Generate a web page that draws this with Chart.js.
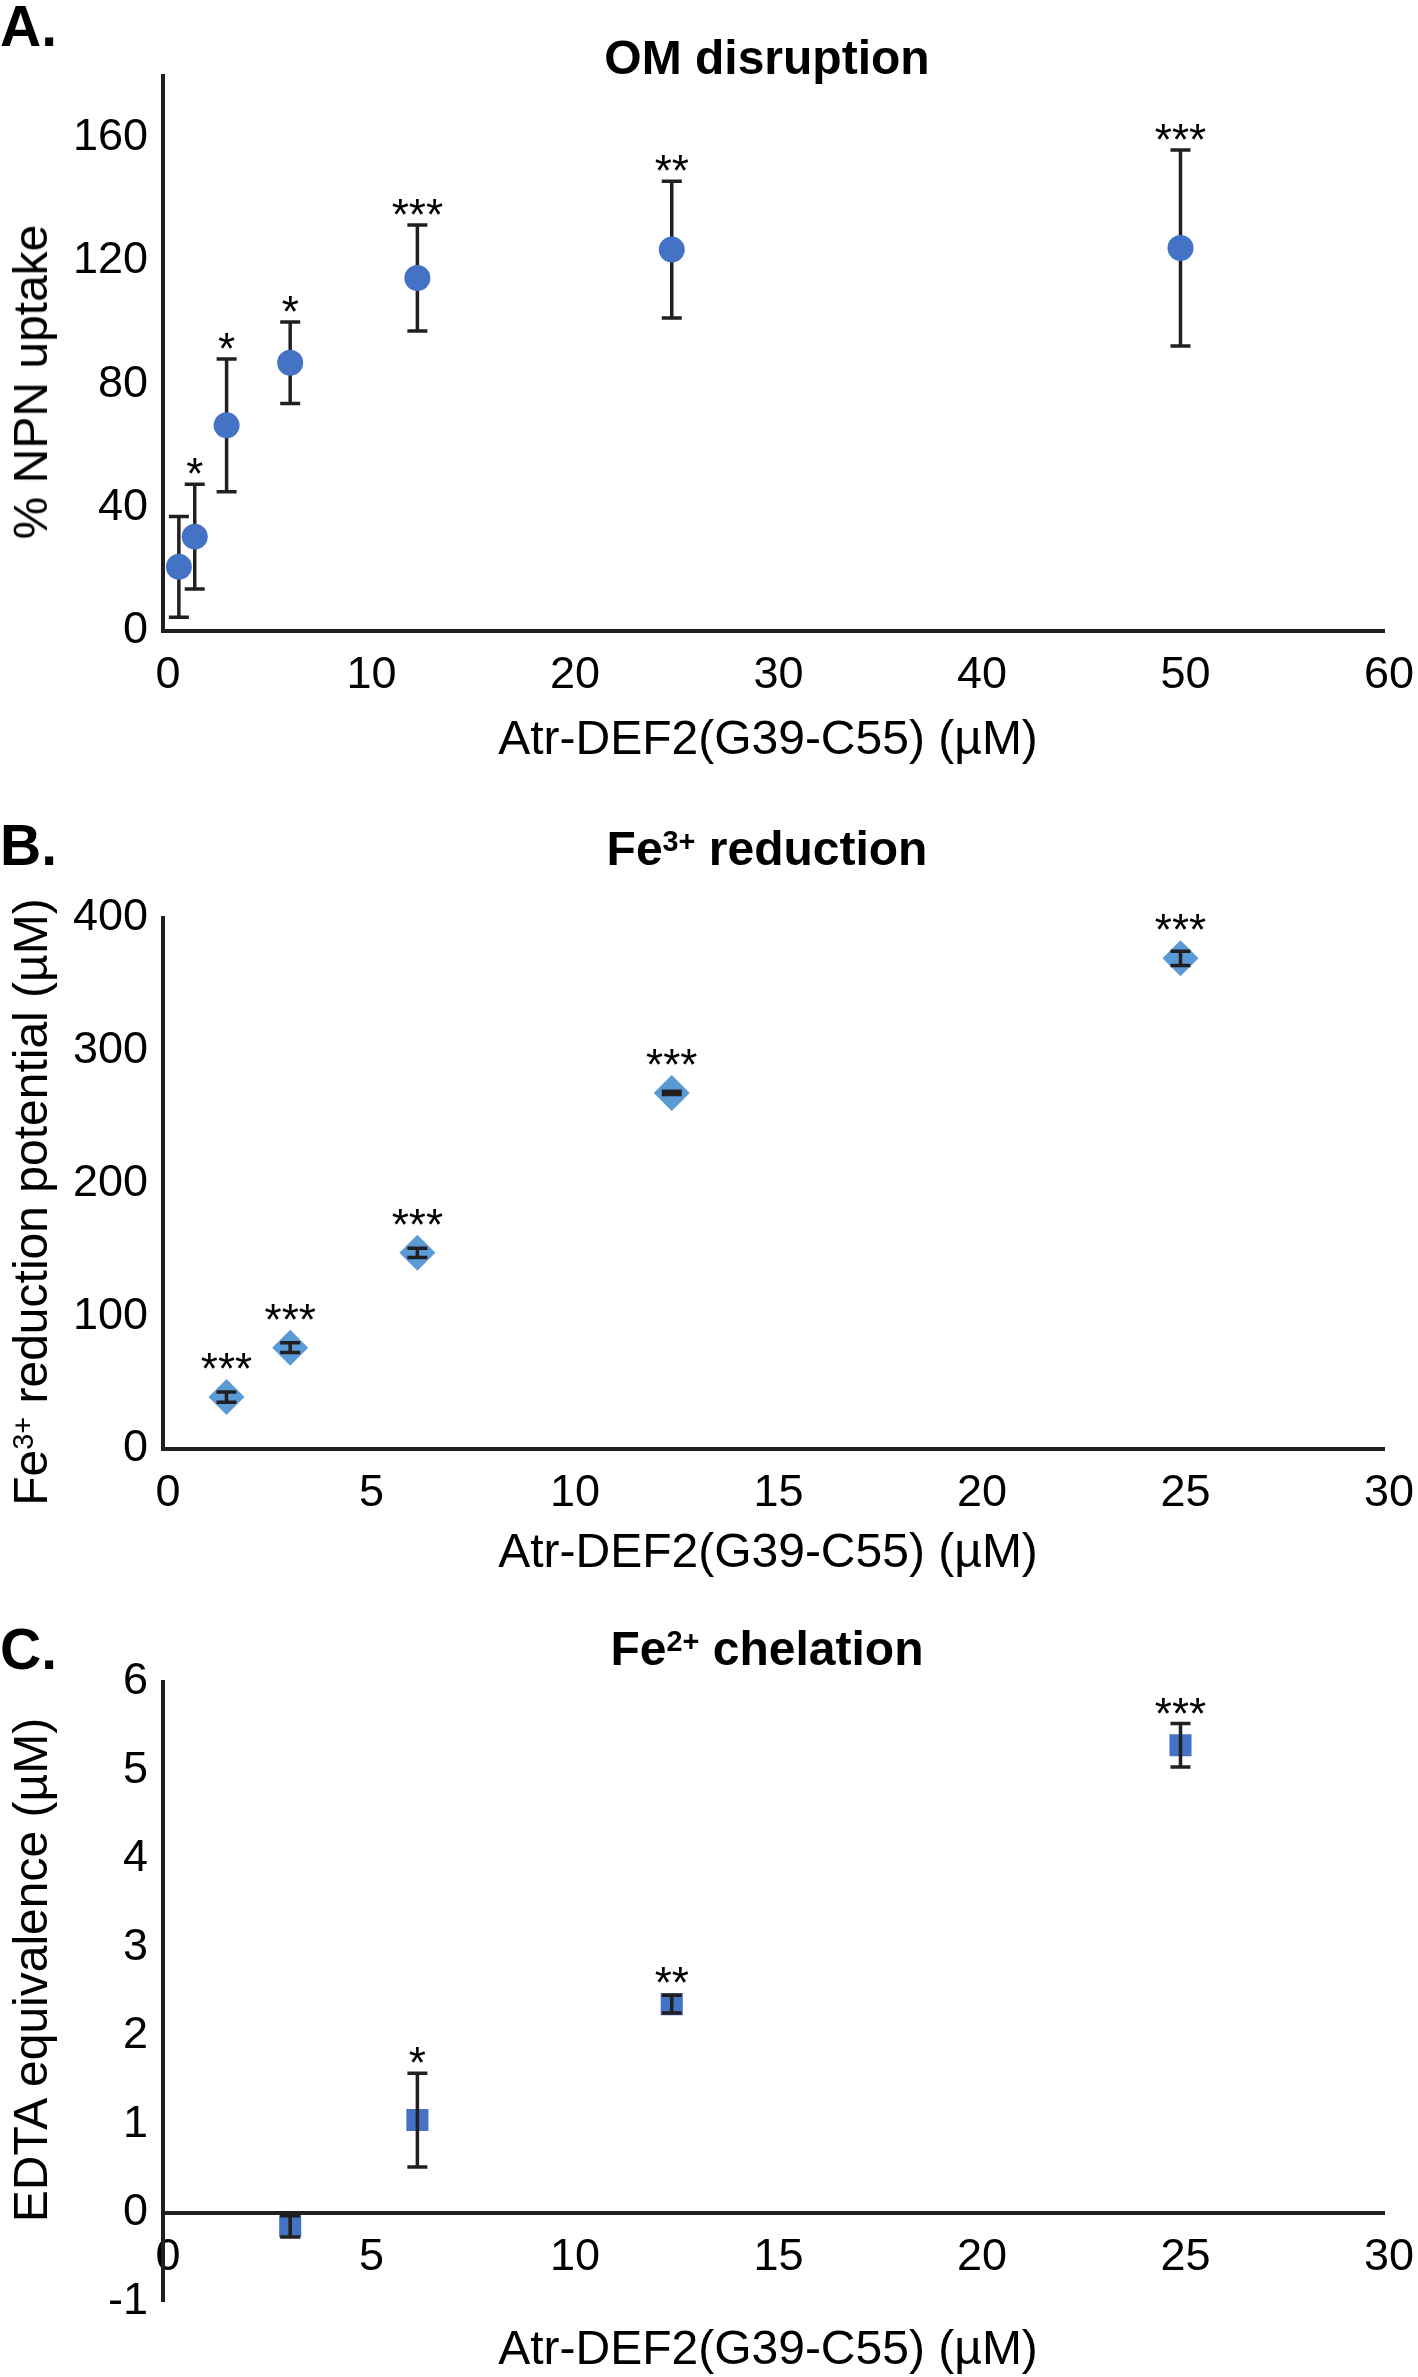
<!DOCTYPE html>
<html>
<head>
<meta charset="utf-8">
<script src="https://cdn.jsdelivr.net/npm/chart.js@4.4.1/dist/chart.umd.min.js"></script>
<style>
  html, body { margin: 0; padding: 0; background: #fff; }
  #fig { position: relative; width: 1418px; height: 2377px; background: #fff; overflow: hidden;
         font-family: "Liberation Sans", Arial, sans-serif; color: #000; }
  #fig canvas { position: absolute; left: 0; }
  .t { position: absolute; white-space: nowrap; line-height: 1; transform: translate(-50%, -50%); }
  .letter { font-weight: bold; font-size: 57px; transform: translate(0, -50%); left: 0; }
  .title { font-weight: bold; font-size: 48px; }
  .axt { font-size: 48px; }
  .rot { transform: translate(-50%, -50%) rotate(-90deg); }
  sup { font-size: 0.6em; line-height: 0; vertical-align: 0.5em; }
</style>
</head>
<body>
<div id="fig">
  <canvas id="chartA" width="1418" height="770" style="top:0"></canvas>
  <canvas id="chartB" width="1418" height="800" style="top:780px"></canvas>
  <canvas id="chartC" width="1418" height="797" style="top:1580px"></canvas>

  <div class="t letter" style="top:26px">A.</div>
  <div class="t title" style="left:767px;top:58px">OM disruption</div>
  <div class="t axt rot" style="left:31px;top:382px">% NPN uptake</div>
  <div class="t axt" style="left:768px;top:738px">Atr-DEF2(G39-C55) (µM)</div>

  <div class="t letter" style="top:845px">B.</div>
  <div class="t title" style="left:767px;top:849px">Fe<sup>3+</sup> reduction</div>
  <div class="t axt rot" style="left:31px;top:1202px">Fe<sup>3+</sup> reduction potential (µM)</div>
  <div class="t axt" style="left:768px;top:1551px">Atr-DEF2(G39-C55) (µM)</div>

  <div class="t letter" style="top:1649px">C.</div>
  <div class="t title" style="left:767px;top:1649px">Fe<sup>2+</sup> chelation</div>
  <div class="t axt rot" style="left:31px;top:1970px">EDTA equivalence (µM)</div>
  <div class="t axt" style="left:768px;top:2348px">Atr-DEF2(G39-C55) (µM)</div>
</div>

<script>
(function () {
  "use strict";

  // ── Data ──────────────────────────────────────────────────────
  // A. OM disruption (% NPN uptake)
  var concA = [0.78, 1.56, 3.125, 6.25, 12.5, 25, 50];
  var npnMean = [20.8, 30.6, 66.7, 87.0, 114.5, 123.7, 124.2];
  var npnErr = [16.3, 17.0, 21.5, 13.2, 17.2, 22.2, 31.8];
  var npnSig = ["", "*", "*", "*", "***", "**", "***"];
  var xTicksA = [0, 10, 20, 30, 40, 50, 60];
  var yTicksA = [0, 40, 80, 120, 160];

  // B. Fe3+ reduction potential (µM)
  var concB = [1.56, 3.125, 6.25, 12.5, 25];
  var feRedMean = [39.1, 76.3, 147.8, 268.2, 369.6];
  var feRedErr = [3.8, 3.7, 3.5, 1.2, 5.4];
  var feRedSig = ["***", "***", "***", "***", "***"];
  var xTicksB = [0, 5, 10, 15, 20, 25, 30];
  var yTicksB = [0, 100, 200, 300, 400];

  // C. Fe2+ chelation (EDTA equivalence, µM)
  var concC = [3.125, 6.25, 12.5, 25];
  var edtaMean = [-0.15, 1.05, 2.36, 5.285];
  var edtaErr = [0.12, 0.53, 0.10, 0.245];
  var edtaSig = ["", "*", "**", "***"];
  var xTicksC = [0, 5, 10, 15, 20, 25, 30];
  var yTicksC = [-1, 0, 1, 2, 3, 4, 5, 6];

  var FONT = "'Liberation Sans', Arial, sans-serif";
  var INK = "#231f20";
  Chart.defaults.font.family = FONT;
  Chart.defaults.color = "#000";

  // ── Error bars + significance stars ───────────────────────────
  function drawBars(chart, o) {
    var ctx = chart.ctx, xs = chart.scales.x, ys = chart.scales.y;
    var pts = chart.data.datasets[0].data;
    ctx.save();
    ctx.strokeStyle = INK;
    ctx.lineWidth = 3.5;
    pts.forEach(function (p, i) {
      var x = xs.getPixelForValue(p.x);
      var yt = ys.getPixelForValue(p.y + o.errors[i]);
      var yb = ys.getPixelForValue(p.y - o.errors[i]);
      ctx.beginPath();
      ctx.moveTo(x, yt); ctx.lineTo(x, yb);
      ctx.moveTo(x - 10, yt); ctx.lineTo(x + 10, yt);
      ctx.moveTo(x - 10, yb); ctx.lineTo(x + 10, yb);
      ctx.stroke();
    });
    ctx.restore();
  }

  function drawStars(chart, o) {
    var ctx = chart.ctx, xs = chart.scales.x, ys = chart.scales.y;
    var pts = chart.data.datasets[0].data;
    ctx.save();
    ctx.fillStyle = "#000";
    ctx.font = "44px " + FONT;
    ctx.textAlign = "center";
    ctx.textBaseline = "alphabetic";
    pts.forEach(function (p, i) {
      if (!o.stars[i]) return;
      var x = xs.getPixelForValue(p.x);
      var top = Math.min(ys.getPixelForValue(p.y + o.errors[i]), ys.getPixelForValue(p.y) - o.half);
      ctx.fillText(o.stars[i], x, top + 5);
    });
    ctx.restore();
  }

  var errorBars = {
    id: "errorBars",
    beforeDatasetsDraw: function (chart, args, o) { if (!o.onTop) drawBars(chart, o); },
    afterDatasetsDraw: function (chart, args, o) {
      if (o.onTop) drawBars(chart, o);
      drawStars(chart, o);
    }
  };

  function makeChart(id, c) {
    return new Chart(document.getElementById(id), {
      type: "scatter",
      data: {
        datasets: [{
          data: c.x.map(function (v, i) { return { x: v, y: c.y[i] }; }),
          pointStyle: c.style,
          pointRadius: c.radius,
          pointHoverRadius: c.radius,
          backgroundColor: c.color,
          borderColor: c.color,
          borderWidth: 0
        }]
      },
      options: {
        responsive: false,
        animation: false,
        events: [],
        layout: { padding: c.pad },
        plugins: {
          legend: { display: false },
          tooltip: { enabled: false },
          errorBars: { errors: c.err, stars: c.sig, onTop: c.barsOnTop, half: c.half }
        },
        scales: {
          x: {
            type: "linear",
            min: c.xTicks[0],
            max: c.xTicks[c.xTicks.length - 1],
            position: c.xPos,
            grid: { display: false, drawTicks: false },
            border: { display: true, color: INK, width: 4 },
            ticks: { padding: 18, labelOffset: 5, color: "#000", font: { size: 45 }, callback: function (v) { return String(v); } },
            afterBuildTicks: function (s) { s.ticks = c.xTicks.map(function (v) { return { value: v }; }); },
            afterFit: function (s) { s.height = c.xH; s.paddingLeft = 0; s.paddingRight = 0; }
          },
          y: {
            type: "linear",
            min: c.yMin,
            max: c.yMax,
            grid: { display: false, drawTicks: false },
            border: { display: true, color: INK, width: 4 },
            ticks: { padding: 15, color: "#000", font: { size: 45 }, callback: function (v) { return String(v); } },
            afterBuildTicks: function (s) { s.ticks = c.yTicks.map(function (v) { return { value: v }; }); },
            afterFit: function (s) { s.width = 163; s.paddingTop = 0; s.paddingBottom = 0; }
          }
        }
      },
      plugins: [errorBars]
    });
  }

  makeChart("chartA", {
    x: concA, y: npnMean, err: npnErr, sig: npnSig,
    xTicks: xTicksA, yTicks: yTicksA, yMin: 0, yMax: 180,
    style: "circle", radius: 13, half: 13, color: "#4472c4", barsOnTop: false,
    pad: { left: 0, right: 34, top: 76, bottom: 0 }, xPos: "bottom", xH: 139
  });

  makeChart("chartB", {
    x: concB, y: feRedMean, err: feRedErr, sig: feRedSig,
    xTicks: xTicksB, yTicks: yTicksB, yMin: 0, yMax: 400,
    style: "rectRot", radius: 18, half: 18, color: "#5b9bd5", barsOnTop: true,
    pad: { left: 0, right: 34, top: 138, bottom: 0 }, xPos: "bottom", xH: 131
  });

  makeChart("chartC", {
    x: concC, y: edtaMean, err: edtaErr, sig: edtaSig,
    xTicks: xTicksC, yTicks: yTicksC, yMin: -1, yMax: 6,
    style: "rect", radius: 15.6, half: 11, color: "#4472c4", barsOnTop: true,
    pad: { left: 0, right: 34, top: 102, bottom: 75.5 }, xPos: { y: 0 }, xH: 0
  });
})();
</script>
</body>
</html>
